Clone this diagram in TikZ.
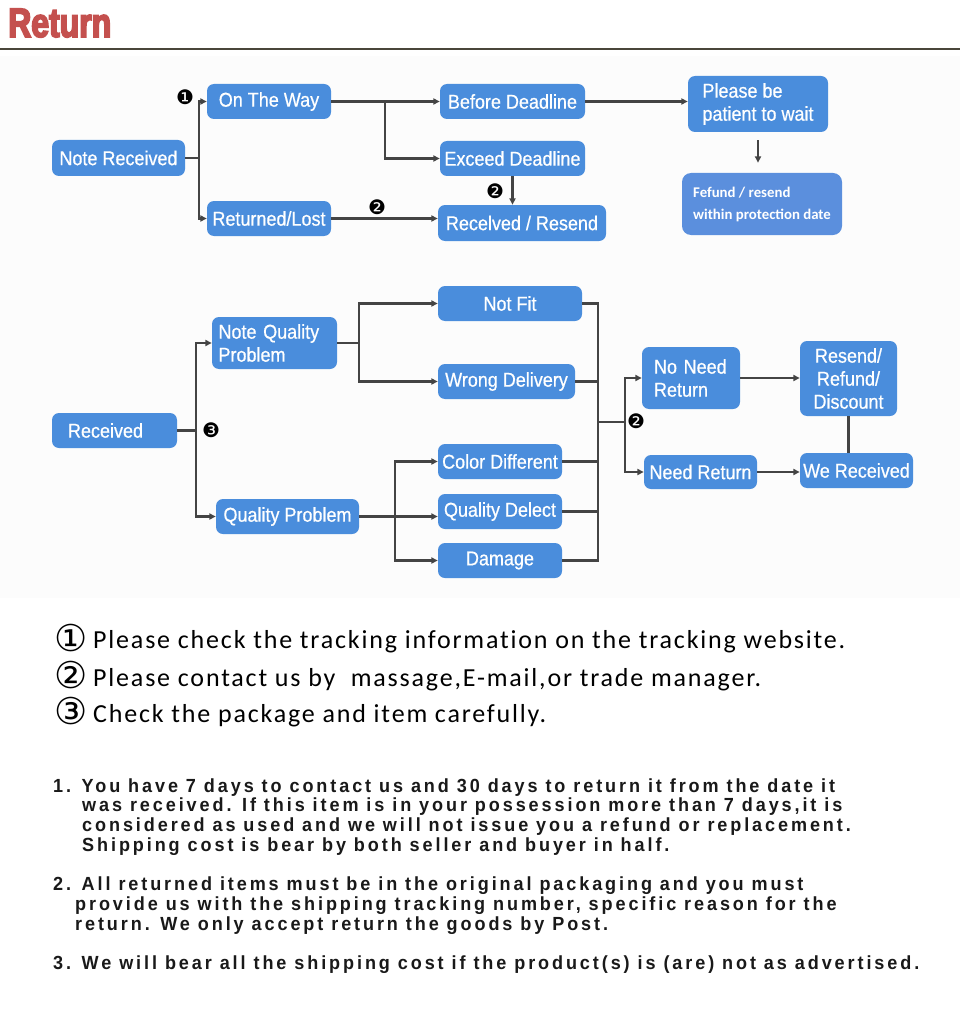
\documentclass[tikz,border=0pt]{standalone}
\usepackage{fontspec}
\setmainfont{Liberation Sans}
\newfontfamily\boxfont[FakeStretch=0.9,FakeBold=0.6]{Liberation Sans}
\newfontfamily\titlefont[FakeStretch=0.78,FakeBold=4]{Liberation Sans}
\newfontfamily\fefont{Carlito}
\newfontfamily\notefont[LetterSpace=7,Ligatures=NoCommon]{Carlito}
\newfontfamily\symfont{DejaVu Sans}
\newfontfamily\parafont[FakeStretch=0.95,LetterSpace=15.3]{Liberation Sans}
\usetikzlibrary{arrows.meta}
\definecolor{boxblue}{HTML}{4A8DDC}
\definecolor{feblue}{HTML}{5B8FDD}
\definecolor{titlered}{HTML}{C4504E}
\definecolor{linegray}{HTML}{444444}
\definecolor{rulecol}{HTML}{4A463A}
\definecolor{bgshade}{HTML}{FCFCFC}
\tikzset{
  box/.style={fill=boxblue, rounded corners=7, text=white, inner sep=0pt,
    font=\boxfont\fontsize{20}{23}\selectfont},
  febox/.style={fill=feblue, rounded corners=9, text=white, inner sep=0pt,
    font=\fefont\bfseries\fontsize{14.8}{22}\selectfont},
  conn/.style={draw=linegray, line width=2.2},
  arr/.style={conn, -{Triangle[length=6.5,width=6]}},
  numbadge/.style={font=\symfont\fontsize{20}{20}\selectfont, inner sep=0pt},
  noteline/.style={anchor=base west, inner sep=0pt, font=\notefont\fontsize{26}{26}\selectfont},
  circnum/.style={inner sep=0pt, font=\symfont\fontsize{37}{37}\selectfont},
  paraline/.style={anchor=base west, inner sep=0pt, font=\parafont\bfseries\fontsize{19}{19}\selectfont, text=black!90}
}
\begin{document}
\begin{tikzpicture}[x=1pt,y=-1pt]
\fill[white] (0,0) rectangle (960,1027);
\useasboundingbox (0,0) rectangle (960,1027);
\fill[bgshade] (0,56) rectangle (960,598);
% title
\node[anchor=base west, inner sep=0pt, text=titlered, font=\titlefont\bfseries\fontsize{41}{41}\selectfont] (title) at (8,37) {Return};
\draw[rulecol, line width=1.5] (0,49) -- (960,49);

% ---------- top flowchart ----------
\node[box, minimum width=133, minimum height=36] (nr) at (118.5,158) {Note Received};
\node[box, minimum width=124, minimum height=35] (otw) at (269,101.5) {On The Way};
\node[box, minimum width=124, minimum height=35] (rl) at (269,218.5) {Returned/Lost};
\node[box, minimum width=145, minimum height=35] (bd) at (512.5,101.5) {Before Deadline};
\node[box, minimum width=145, minimum height=35] (ed) at (512.5,158.5) {Exceed Deadline};
\node[box, minimum width=168, minimum height=36] (rr) at (522,223) {Recelved / Resend};
\node[box, minimum width=140, minimum height=56, align=left] (pbp) at (758,104) {Please be\\patient to wait};
\node[febox, minimum width=160, minimum height=62, align=left] (fef) at (762,204) {Fefund / resend\\within protection date};

\coordinate (j1) at (199,158);
\coordinate (j2) at (385,101.5);
\draw[conn] (nr.east) -- (j1);
\draw[arr] (j1) |- (otw.west);
\draw[arr] (j1) |- (rl.west);
\draw[arr] (otw.east) -- (bd.west);
\draw[arr] (j2) |- (ed.west);
\draw[arr] (rl.east) -- (rl.east -| rr.west);
\draw[arr] (ed.south) -- (ed.south |- rr.north);
\draw[arr] (bd.east) -- (bd.east -| pbp.west);
\draw[arr, shorten <=8, shorten >=10] (pbp.south) -- (pbp.south |- fef.north);

\node[numbadge] (m1) at (185,97) {❶};
\node[numbadge] (m2) at (377,207) {❷};
\node[numbadge] (m3) at (495,191) {❷};

% ---------- bottom flowchart ----------
\node[box, minimum width=125, minimum height=35, align=left, text width=93] (rcv) at (114.5,430.5) {Received};
\node[box, minimum width=125, minimum height=52, align=left, text width=112] (nqp) at (274.5,343) {Note Quality\\Problem};
\node[box, minimum width=143, minimum height=35] (qp) at (287.5,516.5) {Quality Problem};
\node[box, minimum width=144, minimum height=35] (nf) at (510,303.5) {Not Fit};
\node[box, minimum width=137, minimum height=35] (wd) at (506.5,381.5) {Wrong Delivery};
\node[box, minimum width=124, minimum height=35] (cd) at (500,461.5) {Color Different};
\node[box, minimum width=124, minimum height=35] (qd) at (500,511.5) {Quality Delect};
\node[box, minimum width=124, minimum height=35] (dm) at (500,560.5) {Damage};
\node[box, minimum width=98, minimum height=62, align=left, text width=74] (nnr) at (691,378) {No Need\\Return};
\node[box, minimum width=113, minimum height=34] (nrt) at (700.5,472) {Need Return};
\node[box, minimum width=97, minimum height=75, align=center] (rrd) at (848.5,378.5) {Resend/\\Refund/\\Discount};
\node[box, minimum width=113, minimum height=35] (wr) at (856.5,470.5) {We Received};

\coordinate (j3) at (196,430.5);
\coordinate (j4) at (359,343);
\coordinate (j5) at (395,516.5);
\coordinate (j6) at (598,422);
\coordinate (j7) at (625,422);
\draw[conn] (rcv.east) -- (j3);
\draw[arr] (j3) |- (nqp.west);
\draw[arr] (j3) |- (qp.west);
\draw[conn] (nqp.east) -- (j4);
\draw[arr] (j4) |- (nf.west);
\draw[arr] (j4) |- (wd.west);
\draw[arr] (qp.east) -- (qp.east -| qd.west);
\draw[arr] (j5) |- (cd.west);
\draw[arr] (j5) |- (dm.west);
\draw[conn] (nf.east) -| (j6);
\draw[conn] (wd.east) -| (j6);
\draw[conn] (cd.east) -| (j6);
\draw[conn] (qd.east) -| (j6);
\draw[conn] (dm.east) -| (j6);
\draw[conn] (j6) -- (j7);
\draw[arr] (j7) |- (nnr.west);
\draw[arr] (j7) |- (nrt.west);
\draw[arr] (nnr.east) -- (nnr.east -| rrd.west);
\draw[arr] (nrt.east) -- (nrt.east -| wr.west);
\draw[conn] (rrd.south) -- (rrd.south |- wr.north);

\node[numbadge] (m4) at (211,430) {❸};
\node[numbadge] (m5) at (636,421) {❷};

% ---------- notes ----------
\node[circnum] (c1) at (71,638) {①};
\node[noteline] (n1) at (93,648) {Please check the tracking information on the tracking website.};
\node[circnum] (c2) at (71,675) {②};
\node[noteline] (n2) at (93,686) {Please contact us by\ \ massage,E-mail,or trade manager.};
\node[circnum] (c3) at (71,711) {③};
\node[noteline] (n3) at (93,722) {Check the package and item carefully.};

% ---------- paragraphs ----------
\node[paraline] (p1a) at (53,792) {1. You have 7 days to contact us and 30 days to return it from the date it};
\node[paraline] (p1b) at (82,811) {was received. If this item is in your possession more than 7 days,it is};
\node[paraline] (p1c) at (82,831) {considered as used and we will not issue you a refund or replacement.};
\node[paraline] (p1d) at (82,851) {Shipping cost is bear by both seller and buyer in half.};
\node[paraline] (p2a) at (53,890) {2. All returned items must be in the original packaging and you must};
\node[paraline] (p2b) at (75,910) {provide us with the shipping tracking number, specific reason for the};
\node[paraline] (p2c) at (75,930) {return. We only accept return the goods by Post.};
\node[paraline] (p3) at (53,969) {3. We will bear all the shipping cost if the product(s) is (are) not as advertised.};
\end{tikzpicture}
\end{document}
